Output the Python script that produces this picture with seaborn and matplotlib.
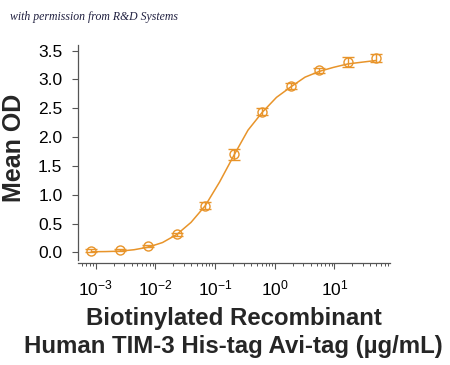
import numpy as np
import pandas as pd
import matplotlib
matplotlib.use("Agg")
import matplotlib.pyplot as plt
import seaborn as sns

# Measured points (3-fold dilution series, ug/mL)
conc = [0.000847, 0.00254, 0.00762, 0.0229, 0.0686, 0.206, 0.617, 1.85, 5.56, 16.7, 50.0]
mean_od = [0.03, 0.045, 0.11, 0.31, 0.81, 1.70, 2.44, 2.88, 3.16, 3.30, 3.38]
od_err = [0.02, 0.02, 0.02, 0.03, 0.06, 0.10, 0.065, 0.05, 0.04, 0.09, 0.07]

# Fitted curve
curve_conc = [0.000847, 0.00147, 0.00254, 0.0044, 0.00762, 0.0132, 0.0229, 0.0396,
              0.0686, 0.119, 0.206, 0.356, 0.617, 1.07, 1.85, 3.21, 5.56, 9.62,
              16.7, 28.9, 50.0]
curve_od = [0.01, 0.013, 0.02, 0.045, 0.09, 0.17, 0.31, 0.52, 0.81, 1.22, 1.68,
            2.12, 2.43, 2.69, 2.87, 3.04, 3.14, 3.21, 3.27, 3.30, 3.33]

orange = "#E8942A"

sns.set_style("ticks")
plt.rcParams["font.family"] = ["Liberation Sans", "DejaVu Sans"]
plt.rcParams["mathtext.default"] = "regular"

fig = plt.figure(figsize=(4.5, 3.65), dpi=100)
ax = fig.add_axes([0.1727, 0.2795, 0.694, 0.5975])

curve = pd.DataFrame({"conc": curve_conc, "od": curve_od})
sns.lineplot(data=curve, x="conc", y="od", ax=ax, color=orange, linewidth=1.1)
ax.errorbar(conc, mean_od, yerr=od_err, fmt="o", color=orange, mfc="none",
            ms=6.5, mew=1.0, elinewidth=1.0, capsize=4, capthick=1.0)

ax.set_xscale("log")
ax.set_xlim(10 ** -3.3, 10 ** 1.93)
ax.set_ylim(-0.185, 3.6)
ax.set_yticks([0.0, 0.5, 1.0, 1.5, 2.0, 2.5, 3.0, 3.5])
ax.set_yticklabels(["0.0", "0.5", "1.0", "1.5", "2.0", "2.5", "3.0", "3.5"])
ax.set_xticks([1e-3, 1e-2, 1e-1, 1e0, 1e1])

for s in ["top", "right"]:
    ax.spines[s].set_visible(False)
for s in ["left", "bottom"]:
    ax.spines[s].set_color("#555555")
    ax.spines[s].set_linewidth(0.9)
ax.spines["left"].set_bounds(-0.13, 3.6)

ax.tick_params(axis="both", which="major", labelsize=12.5, length=4, width=0.8,
               color="#555555", labelcolor="black")
ax.tick_params(axis="y", pad=7)
ax.tick_params(axis="x", pad=7)
ax.tick_params(axis="x", which="minor", length=2.5, width=0.7, color="#555555")

ax.set_ylabel("Mean OD", fontsize=18, fontweight="bold")
ax.yaxis.set_label_coords(-0.165, 0.53)
ax.set_xlabel("Biotinylated Recombinant\nHuman TIM-3 His-tag Avi-tag (\u00b5g/mL)",
              fontsize=17.3, fontweight="bold", linespacing=1.28)
ax.xaxis.set_label_coords(0.5, -0.2)
ax.xaxis.label.set_va("top")

fig.text(0.022, 0.953, "with permission from R&D Systems", fontsize=8.5,
         family="Liberation Serif", style="italic", color="#202040", va="center")

plt.savefig("out.png", dpi=100)
